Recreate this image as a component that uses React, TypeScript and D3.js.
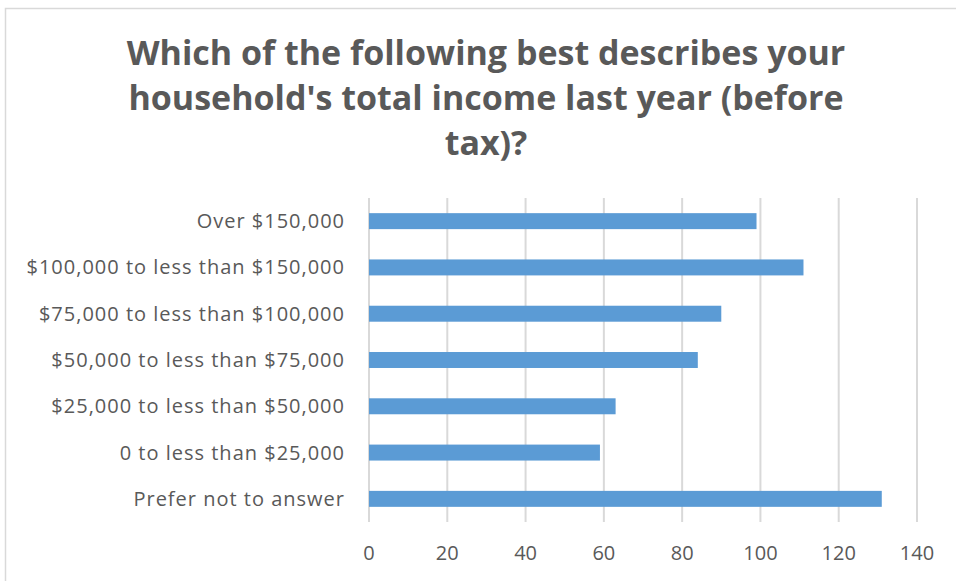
import React from "react";
import * as d3 from "d3";

const categories = [
  "Over $150,000",
  "$100,000 to less than $150,000",
  "$75,000 to less than $100,000",
  "$50,000 to less than $75,000",
  "$25,000 to less than $50,000",
  "0 to less than $25,000",
  "Prefer not to answer",
];
const counts = [99, 111, 90, 84, 63, 59, 131];
const xTicks = [0, 20, 40, 60, 80, 100, 120, 140];
const titleLines = [
  "Which of the following best describes your",
  "household's total income last year (before",
  "tax)?",
];

const W = 956;
const H = 581;
const plot = { left: 369, right: 917, top: 198, bottom: 522 };
const textColor = "#595959";
const font = "'Open Sans', 'Liberation Sans', sans-serif";

const App = () => {
  const x = d3.scaleLinear().domain([0, 140]).range([plot.left, plot.right]);
  const y = d3
    .scaleBand<string>()
    .domain(categories)
    .range([plot.top, plot.bottom])
    .paddingInner(0.655)
    .paddingOuter(0.3275);

  return (
    <svg
      width={W}
      height={H}
      style={{ position: "absolute", left: 0, top: 0, background: "#fff" }}
      fontFamily={font}
    >
      <rect x={5.5} y={8.5} width={W} height={H} fill="#fff" stroke="#D9D9D9" strokeWidth={1.5} />

      {titleLines.map((t, i) => (
        <text
          key={i}
          x={486}
          y={65 + i * 45}
          textAnchor="middle"
          fontSize={34}
          fontWeight={700}
          fill={textColor}
        >
          {t}
        </text>
      ))}

      {xTicks.map((t) => (
        <g key={t}>
          <line
            x1={x(t)}
            x2={x(t)}
            y1={plot.top}
            y2={plot.bottom}
            stroke="#D9D9D9"
            strokeWidth={2}
          />
          <text x={x(t)} y={560} textAnchor="middle" fontSize={20} fill={textColor}>
            {t}
          </text>
        </g>
      ))}

      {categories.map((c, i) => (
        <g key={c}>
          <rect
            x={x(0)}
            y={y(c)}
            width={x(counts[i]) - x(0)}
            height={y.bandwidth()}
            fill="#5B9BD5"
          />
          <text
            x={345}
            y={(y(c) ?? 0) + y.bandwidth() / 2}
            dy="0.35em"
            textAnchor="end"
            fontSize={20}
            letterSpacing={1}
            fill={textColor}
          >
            {c}
          </text>
        </g>
      ))}
    </svg>
  );
};

export default App;
